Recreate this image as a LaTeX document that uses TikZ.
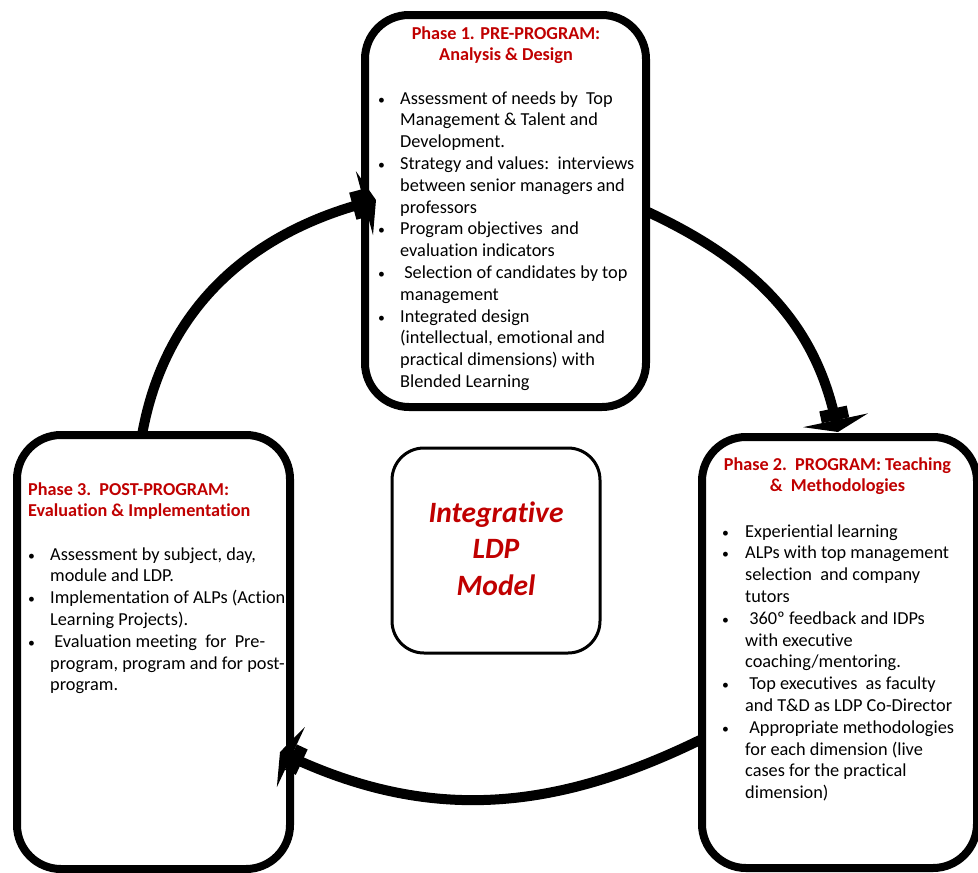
\documentclass[tikz,border=0pt]{standalone}
\usepackage{fontspec}
\setmainfont{Carlito}[Ligatures=NoCommon]
\usetikzlibrary{arrows.meta,calc}
\definecolor{phred}{HTML}{C00000}
\newcommand{\bu}{\hspace{1pt}\scalebox{0.75}{\textbullet}}
\begin{document}
\begin{tikzpicture}[x=1pt,y=1pt,
  phase/.style={draw, line width=8pt, rounded corners=44pt, fill=white, inner sep=0pt, outer sep=0pt},
  core/.style={draw, line width=3pt, rounded corners=32pt, fill=white, inner sep=0pt, outer sep=0pt},
  cyc/.style={line width=10pt, -{Square[width=28pt,length=12pt] Triangle[width=66pt,length=12pt]}},
  ttl/.style={text=phred, inner sep=0pt, font=\bfseries\fontsize{18.2}{21}\selectfont},
  body/.style={anchor=base west, inner sep=0pt, font=\fontsize{18.3}{21.8}\selectfont},
  mid/.style={text=phred, anchor=base, inner sep=0pt, font=\bfseries\itshape\fontsize{29.5}{36.5}\selectfont}
]
\useasboundingbox (0,0) rectangle (978,-873);
% boxes
\node[phase, minimum width=281pt, minimum height=392pt] (P1) at (505.5,-211) {};
\node[phase, minimum width=275pt, minimum height=431pt] (P2) at (839.5,-652.5) {};
\node[phase, minimum width=273pt, minimum height=434pt] (P3) at (153.5,-652) {};
\node[core, minimum width=208pt, minimum height=205pt] (C) at (496,-550.5) {};
% cycle arrows
\draw[cyc] ($(P3.north west)!0.458!(P3.north east)$) to[out=80, in=195] ($(P1.west)+(11,11)$);
\draw[cyc] ($(P1.east)+(2,-1)$) to[out=-25, in=102] ($(P2.north)+(-1.5,5)$);
\draw[cyc] ($(P2.west)+(-2,-87.5)$) to[out=206, in=-25] ($(P3.east)+(-10,-100)$);
% titles
\node[ttl, anchor=base] (T1) at (506,-39) {\begin{tabular}[t]{@{}c@{}}Phase 1. PRE-PROGRAM:\\Analysis \& Design\end{tabular}};
\node[ttl, anchor=base] (T2) at (837.5,-470) {\begin{tabular}[t]{@{}c@{}}Phase 2.\ \ PROGRAM: Teaching\\\&\ \ Methodologies\end{tabular}};
\node[ttl, anchor=base west] (T3) at (28,-495) {\begin{tabular}[t]{@{}l@{}}Phase 3.\ \ POST-PROGRAM:\\Evaluation \& Implementation\end{tabular}};
% bodies
\node[body] (B1) at (377,-104) {\begin{tabular}[t]{@{}p{23pt}@{}l@{}}
\bu & Assessment of needs by\ \ Top\\
 & Management \& Talent and\\
 & Development.\\
\bu & Strategy and values:\ \ interviews\\
 & between senior managers and\\
 & professors\\
\bu & Program objectives\ \ and\\
 & evaluation indicators\\
\bu & \ Selection of candidates by top\\
 & management\\
\bu & Integrated design\\
 & (intellectual, emotional and\\
 & practical dimensions) with\\
 & Blended Learning
\end{tabular}};
\node[body] (B2) at (721,-537) {\begin{tabular}[t]{@{}p{24pt}@{}l@{}}
\bu & Experiential learning\\
\bu & ALPs with top management\\
 & selection\ \ and company\\
 & tutors\\
\bu & \ 360º feedback and IDPs\\
 & with executive\\
 & coaching/mentoring.\\
\bu & \ Top executives\ \ as faculty\\
 & and T\&D as LDP Co-Director\\
\bu & \ Appropriate methodologies\\
 & for each dimension (live\\
 & cases for the practical\\
 & dimension)
\end{tabular}};
\node[body] (B3) at (27,-560) {\begin{tabular}[t]{@{}p{23pt}@{}l@{}}
\bu & Assessment by subject, day,\\
 & module and LDP.\\
\bu & Implementation of ALPs (Action\\
 & Learning Projects).\\
\bu & \ Evaluation meeting\ \ for\ \ Pre-\\
 & program, program and for post-\\
 & program.
\end{tabular}};
% centre
\node[mid] (M) at (496,-522) {\begin{tabular}[t]{@{}c@{}}Integrative\\LDP\\Model\end{tabular}};
\end{tikzpicture}
\end{document}
